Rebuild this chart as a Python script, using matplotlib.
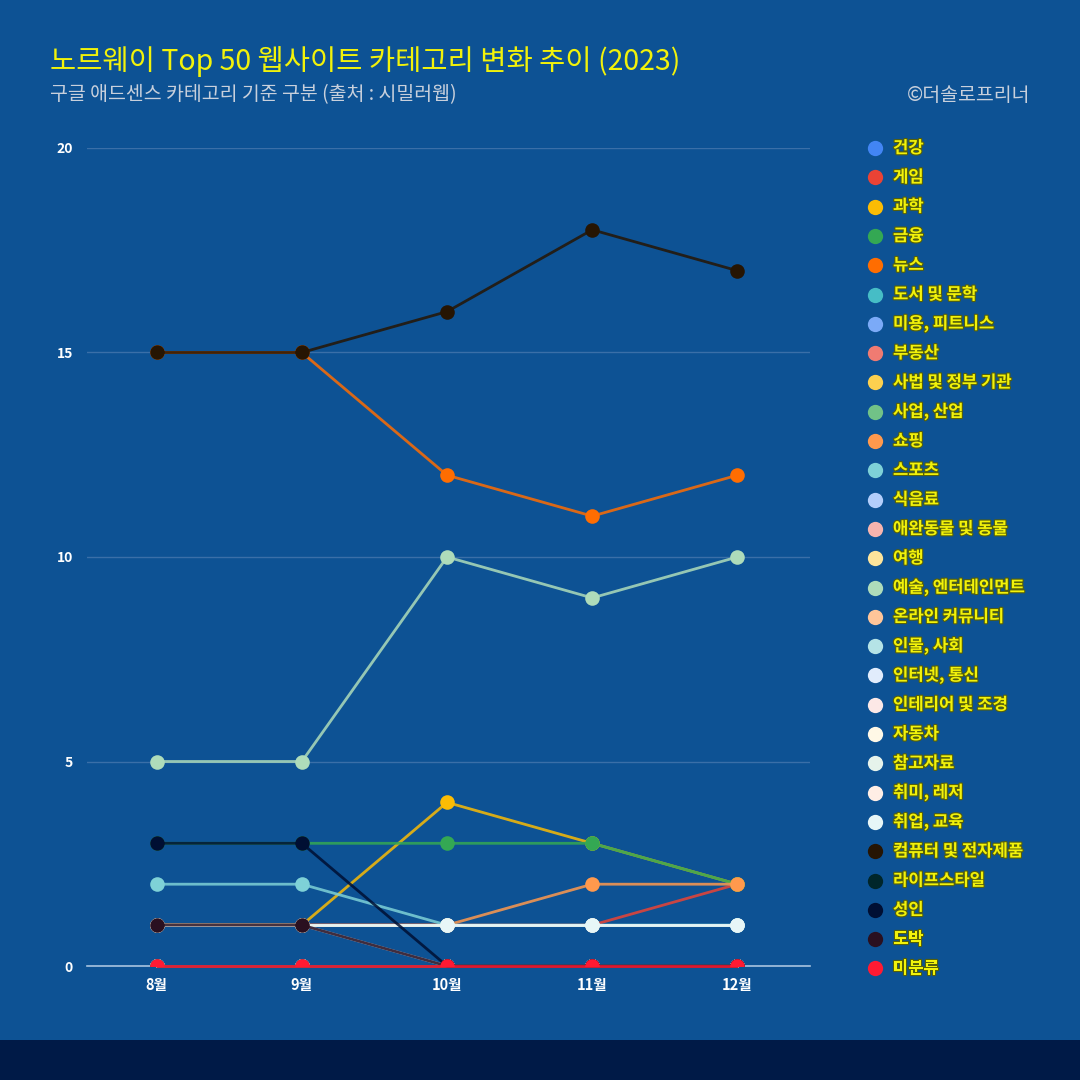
import numpy as np
import matplotlib
matplotlib.use("Agg")
import matplotlib.pyplot as plt
import matplotlib.patheffects as pe
from matplotlib.lines import Line2D
from matplotlib.patches import Rectangle

plt.rcParams['font.family'] = ['Noto Sans CJK KR', 'DejaVu Sans']

# ── Data ─────────────────────────────────────────────────────
months = ["8월", "9월", "10월", "11월", "12월"]

categories = [
    "건강", "게임", "과학", "금융", "뉴스", "도서 및 문학", "미용, 피트니스",
    "부동산", "사법 및 정부 기관", "사업, 산업", "쇼핑", "스포츠", "식음료",
    "애완동물 및 동물", "여행", "예술, 엔터테인먼트", "온라인 커뮤니티",
    "인물, 사회", "인터넷, 통신", "인테리어 및 조경", "자동차", "참고자료",
    "취미, 레저", "취업, 교육", "컴퓨터 및 전자제품", "라이프스타일", "성인",
    "도박", "미분류",
]

colors = [
    "#4285f4", "#ea4335", "#fbbc04", "#34a853", "#ff6d01", "#46bdc6", "#7baaf7",
    "#f07b72", "#fcd04f", "#71c287", "#ff994d", "#7ed1d7", "#b3cefb",
    "#f7b4ae", "#fde49b", "#aedcba", "#ffc599",
    "#b5e3e6", "#e1ecfc", "#fce8e6", "#fff8e6", "#e6f3eb",
    "#ffeee5", "#e7f6f7", "#261503", "#00262a", "#000f33",
    "#2a1020", "#ff1a33",
]

values = {
    "건강":            [0, 0, 0, 0, 0],
    "게임":            [1, 1, 1, 1, 2],
    "과학":            [1, 1, 4, 3, 2],
    "금융":            [3, 3, 3, 3, 2],
    "뉴스":            [15, 15, 12, 11, 12],
    "도서 및 문학":     [0, 0, 0, 0, 0],
    "미용, 피트니스":   [0, 0, 0, 0, 0],
    "부동산":          [0, 0, 0, 0, 0],
    "사법 및 정부 기관": [0, 0, 0, 0, 0],
    "사업, 산업":       [0, 0, 0, 0, 0],
    "쇼핑":            [1, 1, 1, 2, 2],
    "스포츠":          [2, 2, 1, 1, 1],
    "식음료":          [0, 0, 0, 0, 0],
    "애완동물 및 동물":  [0, 0, 0, 0, 0],
    "여행":            [0, 0, 0, 0, 0],
    "예술, 엔터테인먼트": [5, 5, 10, 9, 10],
    "온라인 커뮤니티":   [0, 0, 0, 0, 0],
    "인물, 사회":       [0, 0, 0, 0, 0],
    "인터넷, 통신":     [1, 1, 0, 0, 0],
    "인테리어 및 조경":  [0, 0, 0, 0, 0],
    "자동차":          [0, 0, 0, 0, 0],
    "참고자료":         [1, 1, 1, 1, 1],
    "취미, 레저":       [0, 0, 0, 0, 0],
    "취업, 교육":       [1, 1, 1, 1, 1],
    "컴퓨터 및 전자제품": [15, 15, 16, 18, 17],
    "라이프스타일":      [0, 0, 0, 0, 0],
    "성인":            [3, 3, 0, 0, 0],
    "도박":            [1, 1, 0, 0, 0],
    "미분류":          [0, 0, 0, 0, 0],
}

yticks = [0, 5, 10, 15, 20]

# ── Figure ───────────────────────────────────────────────────
bg = "#0d5294"
fig = plt.figure(figsize=(10.8, 10.8), dpi=100)
fig.patch.set_facecolor(bg)
fig.add_artist(Rectangle((0, 0), 1, 40 / 1080, transform=fig.transFigure,
                         facecolor="#001a47", edgecolor="none"))

ax = fig.add_axes([87 / 1080, 1 - 966 / 1080, 723 / 1080, 818 / 1080])
ax.set_facecolor(bg)

x = np.arange(len(months))
for name, col in zip(categories, colors):
    # lines unclipped so the zero-lines stay full width; markers clipped
    ax.plot(x, values[name], color=col, linewidth=2, alpha=0.85,
            solid_capstyle="round", zorder=3, clip_on=False)
    ax.plot(x, values[name], color=col, linestyle="none", marker="o",
            markersize=10.5, markeredgewidth=0, zorder=3)

ax.set_xlim(-0.48, 4.5)
ax.set_ylim(0, 20)
ax.set_yticks(yticks)
ax.set_yticklabels([str(t) for t in yticks], color="white",
                   fontsize=10, fontweight="bold")
ax.set_xticks(x)
ax.set_xticklabels(months, color="white", fontsize=10.5, fontweight="bold")
ax.tick_params(length=0, pad=8)
ax.tick_params(axis="y", pad=10)
ax.grid(axis="y", color="#3a6fa8", linewidth=1)
ax.grid(axis="x", visible=False)
ax.set_axisbelow(True)
for s in ["top", "right", "left"]:
    ax.spines[s].set_visible(False)
ax.spines["bottom"].set_color("#a8c4e0")
ax.spines["bottom"].set_linewidth(1.2)
ax.spines["bottom"].set_zorder(1)

# ── Legend (manual, in figure coords) ────────────────────────
stroke = [pe.withStroke(linewidth=1.6, foreground="#55600a")]
for i, (name, col) in enumerate(zip(categories, colors)):
    yy = 1 - (148 + i * 29.3) / 1080
    fig.add_artist(Line2D([875 / 1080], [yy], marker="o", markersize=11,
                          markeredgewidth=0, color=col, linestyle="none",
                          transform=fig.transFigure))
    fig.text(893 / 1080, yy, name, color="#f2f20a", fontsize=12,
             fontweight="bold", ha="left", va="center", path_effects=stroke)

# ── Titles ───────────────────────────────────────────────────
fig.text(50 / 1080, 1 - 62 / 1080, "노르웨이 Top 50 웹사이트 카테고리 변화 추이 (2023)",
         color="#f2f20a", fontsize=20.5, ha="left", va="center")
fig.text(50 / 1080, 1 - 95 / 1080, "구글 애드센스 카테고리 기준 구분 (출처 : 시밀러웹)",
         color="#c8d0dc", fontsize=14, ha="left", va="center")
fig.text(1030 / 1080, 1 - 95 / 1080, "©더솔로프리너",
         color="#c8d0dc", fontsize=14, ha="right", va="center")

fig.savefig("out.png", dpi=100, facecolor=bg)
